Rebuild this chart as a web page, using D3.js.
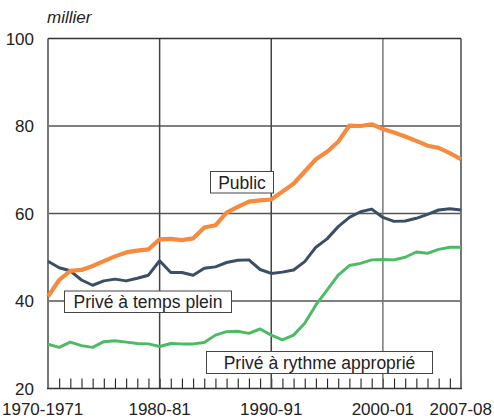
<!DOCTYPE html>
<html>
<head>
<meta charset="utf-8">
<script src="https://cdn.jsdelivr.net/npm/d3@7"></script>
<style>
  html, body { margin: 0; padding: 0; background: #fff; }
  svg text { font-family: "Liberation Sans", Arial, sans-serif; fill: #222; }
</style>
</head>
<body>
<svg id="chart" width="494" height="418"></svg>
<script>
const years = d3.range(1970, 2008);
const public_ = [41.0, 44.8, 46.9, 47.1, 48.0, 49.1, 50.2, 51.1, 51.5, 51.8,
                 54.1, 54.2, 53.9, 54.3, 56.8, 57.3, 60.2, 61.5, 62.7, 63.0,
                 63.2, 65.0, 66.8, 69.6, 72.4, 74.1, 76.4, 80.1, 80.0, 80.4,
                 79.3, 78.5, 77.6, 76.6, 75.5, 75.0, 73.8, 72.4];
const priveTempsPlein = [49.1, 47.6, 46.9, 44.8, 43.6, 44.6, 45.0, 44.6, 45.2, 45.9,
                 49.2, 46.5, 46.5, 45.9, 47.5, 47.8, 48.8, 49.3, 49.4, 47.2,
                 46.3, 46.6, 47.1, 49.0, 52.3, 54.2, 57.0, 59.1, 60.4, 61.0,
                 59.1, 58.2, 58.3, 58.9, 59.8, 60.8, 61.1, 60.8];
const priveRythme = [30.1, 29.4, 30.6, 29.8, 29.4, 30.7, 30.9, 30.6, 30.3, 30.2,
                 29.6, 30.3, 30.2, 30.2, 30.5, 32.2, 33.0, 33.1, 32.6, 33.6,
                 32.2, 31.1, 32.2, 34.9, 39.1, 42.5, 45.9, 48.1, 48.6, 49.4,
                 49.5, 49.4, 50.0, 51.2, 50.9, 51.8, 52.3, 52.3];
const yTicks = [20, 40, 60, 80, 100];
const xLabelYears = [1970, 1980, 1990, 2000, 2007];
const xLabels = ["1970-1971", "1980-81", "1990-91", "2000-01", "2007-08"];
const seriesNames = ["Public", "Privé à temps plein", "Privé à rythme approprié"];
const unitLabel = "millier";

const svg = d3.select("#chart");
const x = d3.scaleLinear().domain([1970, 2007]).range([48, 461]);
const y = d3.scaleLinear().domain([20, 100]).range([388.5, 38.5]);

// year ticks (small, upward from bottom)
const yearTicks = svg.append("g")
  .attr("transform", `translate(0,${y(20)})`)
  .call(d3.axisBottom(x).tickValues(years).tickSize(-10).tickFormat(""));
yearTicks.select(".domain").remove();
yearTicks.selectAll("line").attr("stroke", "#222").attr("stroke-width", 1.1);

// horizontal gridlines
svg.append("g").selectAll("line").data([40, 60, 80]).join("line")
  .attr("x1", x(1970)).attr("x2", x(2007))
  .attr("y1", d => y(d)).attr("y2", d => y(d))
  .attr("stroke", "#555").attr("stroke-width", 1.3);

// vertical gridlines
svg.append("g").selectAll("line").data(xLabelYears).join("line")
  .attr("x1", d => x(d)).attr("x2", d => x(d))
  .attr("y1", y(100)).attr("y2", y(20))
  .attr("stroke", d => (d === 1980 || d === 1990) ? "#444" : "#777")
  .attr("stroke-width", d => (d === 1970 || d === 2007) ? 2 : 1.5);

// top and bottom lines
svg.append("line").attr("x1", x(1970)).attr("x2", x(2007))
  .attr("y1", y(100)).attr("y2", y(100)).attr("stroke", "#333").attr("stroke-width", 1.3);
svg.append("line").attr("x1", x(1970) - 1).attr("x2", x(2007) + 1)
  .attr("y1", y(20)).attr("y2", y(20)).attr("stroke", "#333").attr("stroke-width", 1.5);

// y labels
svg.append("g").selectAll("text").data(yTicks).join("text")
  .attr("x", 34).attr("y", d => y(d)).attr("dy", "0.36em")
  .attr("text-anchor", "end").style("font-size", "17px").text(d => d);

// x labels
svg.append("g").selectAll("text").data(xLabelYears).join("text")
  .attr("x", (d, i) => i === 0 ? 2 : (i === 4 ? 492 : x(d)))
  .attr("y", 414.5)
  .attr("text-anchor", (d, i) => i === 0 ? "start" : (i === 4 ? "end" : "middle"))
  .style("font-size", "17px").text((d, i) => xLabels[i]);

// unit
svg.append("text").attr("x", 47).attr("y", 22.5)
  .style("font-size", "17px").style("font-style", "italic").text(unitLabel);

const line = d3.line().x((d, i) => x(years[i])).y(d => y(d));
const series = [
  { values: priveRythme, color: "#4DBB66", width: 3 },
  { values: priveTempsPlein, color: "#3A4E66", width: 3 },
  { values: public_, color: "#F68B3F", width: 4.2 }
];
svg.append("g").selectAll("path").data(series).join("path")
  .attr("d", d => line(d.values))
  .attr("fill", "none").attr("stroke", d => d.color)
  .attr("stroke-width", d => d.width).attr("stroke-linejoin", "round");

// labels with boxes
const boxes = [
  { text: seriesNames[0], x0: 210, x1: 273, y0: 171, y1: 192.5 },
  { text: seriesNames[1], x0: 64, x1: 231, y0: 290.5, y1: 312 },
  { text: seriesNames[2], x0: 206, x1: 432, y0: 351, y1: 373 }
];
const bg = svg.append("g").selectAll("g").data(boxes).join("g");
bg.append("rect")
  .attr("x", d => d.x0 + 0.5).attr("y", d => d.y0 + 0.5)
  .attr("width", d => d.x1 - d.x0).attr("height", d => d.y1 - d.y0)
  .attr("fill", "#fff").attr("stroke", "#444").attr("stroke-width", 1);
bg.append("text")
  .attr("x", d => (d.x0 + d.x1) / 2 + 0.5).attr("y", d => (d.y0 + d.y1) / 2 + 0.5)
  .attr("dy", "0.36em").attr("text-anchor", "middle")
  .style("font-size", "17.5px").text(d => d.text);
</script>
</body>
</html>
